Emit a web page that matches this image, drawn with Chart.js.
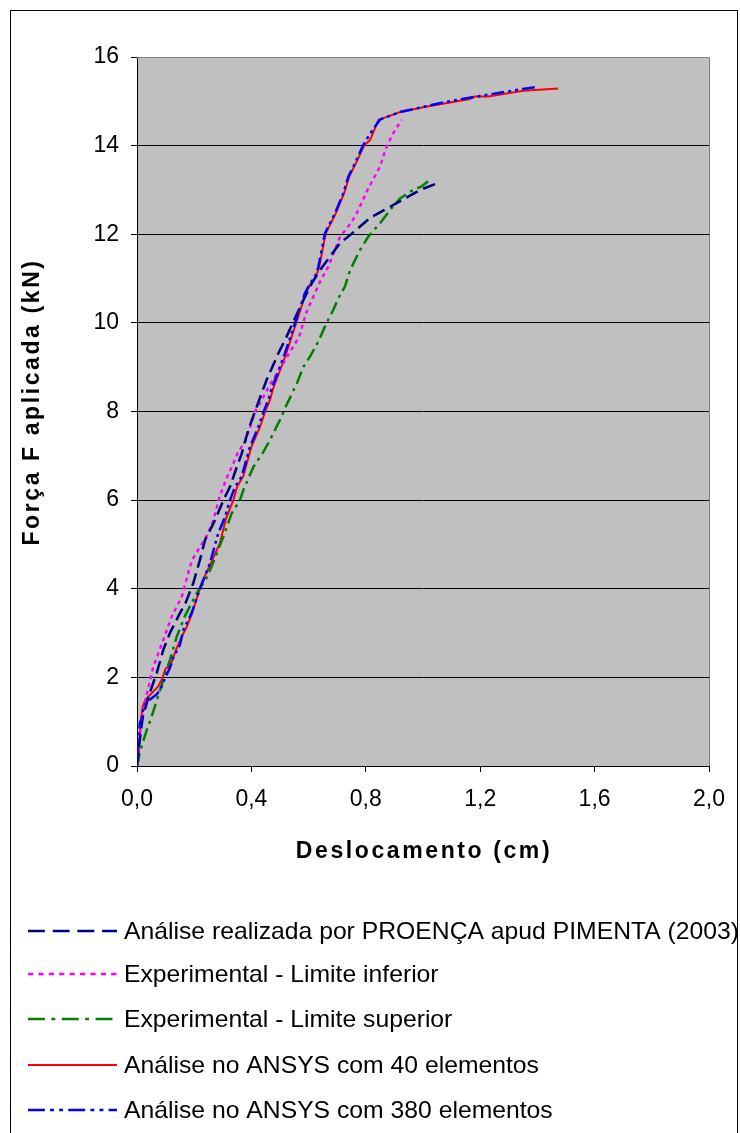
<!DOCTYPE html>
<html>
<head>
<meta charset="utf-8">
<style>
  html, body { margin: 0; padding: 0; background: #fff; }
</style>
<script src="https://cdn.jsdelivr.net/npm/chart.js@4/dist/chart.umd.min.js"></script>
</head>
<body>
<canvas id="myChart" width="740" height="1133"></canvas>
<script>
"use strict";

// series labels (legend order)
const seriesNames = [
  "Análise realizada por PROENÇA apud PIMENTA (2003)",
  "Experimental - Limite inferior",
  "Experimental - Limite superior",
  "Análise no ANSYS com 40 elementos",
  "Análise no ANSYS com 380 elementos",
];
const xTitle = "Deslocamento (cm)";
const yTitle = "Força F aplicada (kN)";

// deslocamento (cm) / força (kN)
const proencaX = [0, 0.008, 0.02, 0.042, 0.069, 0.092, 0.115, 0.15, 0.168, 0.197, 0.22, 0.238, 0.273, 0.302, 0.325, 0.349, 0.366, 0.389, 0.418, 0.453, 0.494, 0.523, 0.547, 0.576, 0.611, 0.64, 0.71, 0.745, 0.786, 0.815, 0.885, 0.937, 0.99, 1.042];
const proencaY = [0, 0.5, 1.1, 1.6, 2.1, 2.62, 3.0, 3.45, 3.65, 4.13, 4.65, 5.1, 5.55, 6.0, 6.3, 6.75, 7.05, 7.58, 8.1, 8.71, 9.31, 9.69, 10.03, 10.44, 10.89, 11.19, 11.8, 11.98, 12.21, 12.37, 12.62, 12.81, 13.0, 13.13];

const inferiorX = [0, 0.008, 0.016, 0.028, 0.057, 0.092, 0.121, 0.156, 0.191, 0.249, 0.267, 0.29, 0.313, 0.337, 0.354, 0.378, 0.413, 0.442, 0.465, 0.529, 0.567, 0.593, 0.64, 0.669, 0.71, 0.751, 0.768, 0.809, 0.85, 0.867, 0.873, 0.896, 0.925];
const inferiorY = [0, 0.6, 1.04, 1.45, 2.24, 2.84, 3.37, 3.81, 4.63, 5.25, 5.55, 6.1, 6.49, 6.83, 7.09, 7.32, 8.0, 8.33, 8.6, 9.28, 9.69, 10.25, 10.93, 11.27, 11.94, 12.28, 12.47, 13.04, 13.53, 13.87, 13.98, 14.28, 14.58];

const superiorX = [0, 0.005, 0.016, 0.034, 0.051, 0.069, 0.092, 0.115, 0.139, 0.168, 0.209, 0.244, 0.267, 0.302, 0.331, 0.36, 0.372, 0.407, 0.442, 0.465, 0.5, 0.523, 0.56, 0.582, 0.605, 0.634, 0.663, 0.686, 0.71, 0.727, 0.745, 0.78, 0.809, 0.85, 0.885, 0.92, 0.955, 0.995, 1.024];
const superiorY = [0, 0.17, 0.44, 0.81, 1.11, 1.48, 1.94, 2.39, 2.92, 3.39, 3.9, 4.25, 4.6, 5.18, 5.7, 6.0, 6.23, 6.75, 7.09, 7.36, 7.81, 8.15, 8.65, 9.01, 9.24, 9.58, 10.0, 10.29, 10.63, 10.82, 11.19, 11.65, 11.95, 12.25, 12.55, 12.81, 12.96, 13.08, 13.23];

const ansys40X = [0.005, 0.008, 0.013, 0.02, 0.03, 0.045, 0.06, 0.075, 0.09, 0.1, 0.115, 0.127, 0.135, 0.155, 0.174, 0.19, 0.226, 0.26, 0.29, 0.312, 0.337, 0.35, 0.372, 0.4, 0.43, 0.447, 0.465, 0.476, 0.505, 0.522, 0.545, 0.562, 0.59, 0.608, 0.625, 0.637, 0.66, 0.695, 0.724, 0.742, 0.765, 0.795, 0.815, 0.844, 0.92, 1.019, 1.164, 1.182, 1.228, 1.351, 1.473];
const ansys40Y = [0.1, 0.5, 1.0, 1.35, 1.5, 1.6, 1.7, 1.8, 2.0, 2.2, 2.25, 2.45, 2.6, 2.9, 3.14, 3.4, 4.12, 4.6, 5.03, 5.6, 6.0, 6.3, 6.55, 7.2, 7.65, 7.98, 8.26, 8.52, 9.01, 9.31, 9.77, 10.1, 10.67, 10.89, 11.04, 11.26, 12.02, 12.47, 12.92, 13.3, 13.6, 14.01, 14.13, 14.58, 14.76, 14.89, 15.05, 15.11, 15.11, 15.24, 15.29];

const ansys380X = [0, 0.005, 0.011, 0.017, 0.022, 0.035, 0.051, 0.07, 0.086, 0.098, 0.115, 0.127, 0.15, 0.162, 0.191, 0.22, 0.255, 0.284, 0.308, 0.325, 0.343, 0.366, 0.395, 0.424, 0.442, 0.459, 0.471, 0.5, 0.517, 0.541, 0.558, 0.587, 0.605, 0.622, 0.634, 0.657, 0.692, 0.721, 0.739, 0.762, 0.791, 0.815, 0.85, 0.92, 1.083, 1.199, 1.304, 1.35, 1.403];
const ansys380Y = [0.15, 0.6, 1.0, 1.05, 1.3, 1.45, 1.53, 1.62, 1.79, 1.99, 2.21, 2.45, 2.73, 3.07, 3.45, 4.0, 4.58, 5.25, 5.62, 6.0, 6.3, 6.53, 7.2, 7.65, 7.98, 8.26, 8.52, 9.01, 9.31, 9.77, 10.1, 10.67, 10.89, 11.04, 11.26, 12.02, 12.47, 12.92, 13.3, 13.6, 14.01, 14.27, 14.59, 14.76, 14.99, 15.12, 15.23, 15.28, 15.33];

const xTicks = [0, 0.4, 0.8, 1.2, 1.6, 2.0];
const yTicks = [0, 2, 4, 6, 8, 10, 12, 14, 16];

const font = "'Liberation Sans', Arial, sans-serif";

const pairs = (xs, ys) => xs.map((x, i) => ({ x: x, y: ys[i] }));

const data = {
  datasets: [
    {
      label: seriesNames[0],
      data: pairs(proencaX, proencaY),
      borderColor: "#000080",
      borderWidth: 2.5,
      borderDash: [13, 6],
    },
    {
      label: seriesNames[1],
      data: pairs(inferiorX, inferiorY),
      borderColor: "#FF00FF",
      borderWidth: 2.5,
      borderDash: [4, 4],
    },
    {
      label: seriesNames[2],
      data: pairs(superiorX, superiorY),
      borderColor: "#008000",
      borderWidth: 2.5,
      borderDash: [13, 5, 3, 5],
    },
    {
      label: seriesNames[3],
      data: pairs(ansys40X, ansys40Y),
      borderColor: "#FF0000",
      borderWidth: 2,
      borderDash: [],
    },
    {
      label: seriesNames[4],
      data: pairs(ansys380X, ansys380Y),
      borderColor: "#0000FF",
      borderWidth: 2.5,
      borderDash: [13, 4, 3, 4, 3, 4],
      order: -1,
    },
  ],
};

// gray plot background, axis titles, outer frame and the vertical legend
const excelLook = {
  id: "excelLook",
  beforeDraw(chart) {
    const { ctx, chartArea: a } = chart;
    ctx.save();
    ctx.fillStyle = "#fff";
    ctx.fillRect(0, 0, chart.width, chart.height);
    ctx.fillStyle = "#C0C0C0";
    ctx.fillRect(a.left, a.top, a.right - a.left, a.bottom - a.top);
    ctx.restore();
  },
  afterDraw(chart) {
    const { ctx, chartArea: a } = chart;
    ctx.save();
    // plot border top/right
    ctx.strokeStyle = "#808080";
    ctx.lineWidth = 1;
    ctx.beginPath();
    ctx.moveTo(a.left, a.top + 0.5);
    ctx.lineTo(a.right + 0.5, a.top + 0.5);
    ctx.lineTo(a.right + 0.5, a.bottom);
    ctx.stroke();
    // outer frame
    ctx.strokeStyle = "#000";
    ctx.strokeRect(10.5, 10.5, 727, 1140);

    // axis titles, spaced like the original
    ctx.fillStyle = "#000";
    ctx.font = "bold 23px " + font;
    ctx.letterSpacing = "2.6px";
    ctx.textAlign = "center";
    ctx.textBaseline = "middle";
    ctx.fillText(xTitle, (a.left + a.right) / 2 + 1, 852);
    ctx.save();
    ctx.translate(33, 402);
    ctx.rotate(-Math.PI / 2);
    ctx.fillText(yTitle, 0, 0);
    ctx.restore();
    ctx.letterSpacing = "0px";

    // legend
    const rows = [931, 974, 1019, 1065, 1110];
    chart.data.datasets.forEach((ds, i) => {
      const y = rows[i];
      ctx.strokeStyle = ds.borderColor;
      ctx.lineWidth = ds.borderWidth;
      ctx.setLineDash(ds.borderDash.map((d) => d * 1.3));
      ctx.beginPath();
      ctx.moveTo(28, y);
      ctx.lineTo(117, y);
      ctx.stroke();
      ctx.setLineDash([]);
      ctx.save();
      ctx.translate(124, y);
      ctx.scale(1.03, 1);
      ctx.fillStyle = "#000";
      ctx.font = "24px " + font;
      ctx.textAlign = "left";
      ctx.textBaseline = "middle";
      ctx.fillText(ds.label, 0, 1);
      ctx.restore();
    });
    ctx.restore();
  },
};

const config = {
  type: "line",
  data: data,
  options: {
    responsive: false,
    animation: false,
    events: [],
    layout: {
      padding: { left: 15, top: 57, right: 31, bottom: 263 },
    },
    elements: {
      point: { radius: 0 },
      line: { tension: 0, fill: false },
    },
    scales: {
      x: {
        type: "linear",
        min: 0,
        max: 2,
        afterFit: (s) => { s.height = 104; },
        afterBuildTicks: (s) => { s.ticks = xTicks.map((v) => ({ value: v })); },
        grid: {
          drawOnChartArea: false,
          drawTicks: true,
          tickLength: 6,
          tickColor: "#000",
        },
        border: { color: "#000", width: 1 },
        ticks: {
          color: "#000",
          padding: 14,
          maxRotation: 0,
          font: { family: font, size: 23 },
          callback: (v) => v.toFixed(1).replace(".", ","),
        },
        title: { display: false },
      },
      y: {
        type: "linear",
        min: 0,
        max: 16,
        afterFit: (s) => { s.width = 122; },
        afterBuildTicks: (s) => { s.ticks = yTicks.map((v) => ({ value: v })); },
        grid: {
          color: (c) => (c.tick && c.tick.value === 16 ? "#808080" : "#000"),
          tickLength: 6,
          tickColor: "#000",
        },
        border: { color: "#000", width: 1 },
        ticks: {
          color: "#000",
          padding: 12,
          font: { family: font, size: 23 },
        },
        title: { display: false },
      },
    },
    plugins: {
      legend: { display: false },
      tooltip: { enabled: false },
    },
  },
  plugins: [excelLook],
};

new Chart(document.getElementById("myChart"), config);
</script>
</body>
</html>
